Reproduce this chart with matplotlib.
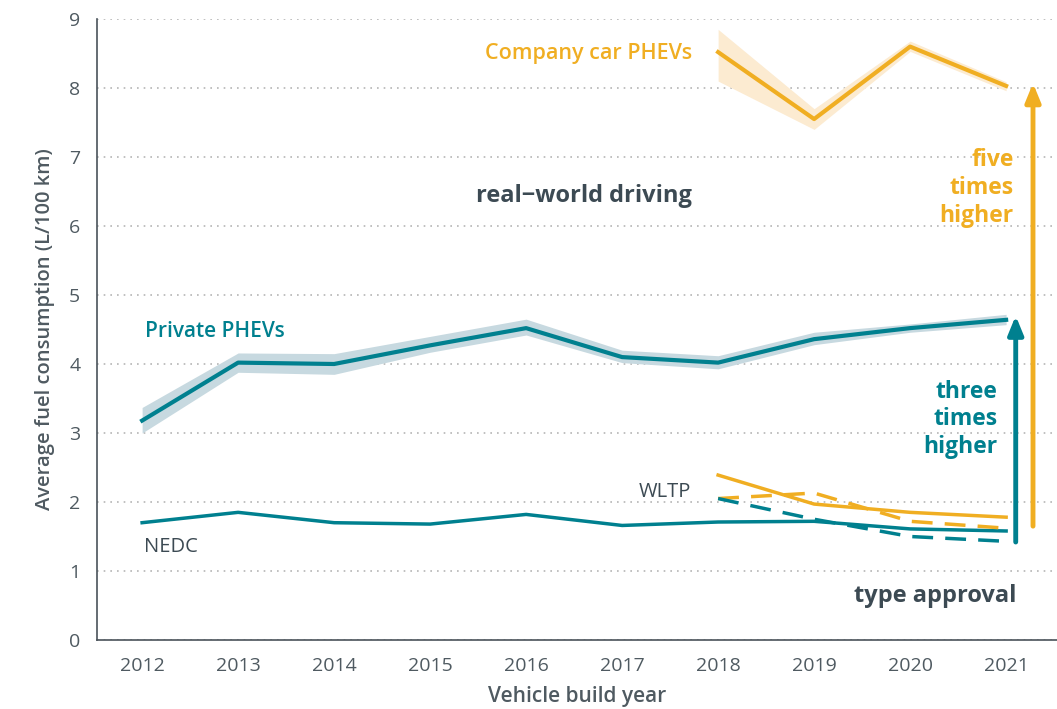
import matplotlib
matplotlib.use("Agg")
import matplotlib.pyplot as plt
import numpy as np

plt.rcParams['font.family'] = ['Open Sans', 'DejaVu Sans']

years = [2012, 2013, 2014, 2015, 2016, 2017, 2018, 2019, 2020, 2021]
private_real = [3.18, 4.02, 4.0, 4.27, 4.52, 4.1, 4.02, 4.36, 4.52, 4.64]
private_lo = [3.0, 3.88, 3.85, 4.17, 4.42, 4.02, 3.93, 4.28, 4.46, 4.57]
private_hi = [3.37, 4.16, 4.15, 4.40, 4.65, 4.20, 4.12, 4.46, 4.58, 4.72]

company_years = [2018, 2019, 2020, 2021]
company_real = [8.52, 7.55, 8.6, 8.03]
company_lo = [8.1, 7.4, 8.53, 7.96]
company_hi = [8.85, 7.7, 8.68, 8.09]

private_nedc = [1.7, 1.85, 1.7, 1.68, 1.82, 1.66, 1.71, 1.72, 1.61, 1.58]
company_nedc = [2.39, 1.97, 1.85, 1.78]
company_wltp = [2.05, 2.13, 1.72, 1.62]
private_wltp = [2.05, 1.75, 1.50, 1.43]

teal = '#00808F'
orange = '#F0AE22'
teal_band = '#C7D9E0'
orange_band = '#FCEBD1'
dark = '#3C4A53'
grey = '#4F5A61'

fig = plt.figure(figsize=(10.57, 7.09), dpi=100)
ax = fig.add_axes([97/1057, 69/709, 1 - 97/1057, (640-19)/709])
ax.set_xlim(2011.53, 2021.53)
ax.set_ylim(0, 9)

ax.fill_between(years, private_lo, private_hi, color=teal_band, lw=0, zorder=1)
ax.fill_between(company_years, company_lo, company_hi, color=orange_band, lw=0, zorder=1)
ax.plot(years, private_real, color=teal, lw=3, zorder=3)
ax.plot(company_years, company_real, color=orange, lw=3, zorder=3)

ax.plot(years, private_nedc, color=teal, lw=2.5, zorder=3)
ax.plot(company_years, company_nedc, color=orange, lw=2.5, zorder=3)
ax.plot(company_years, company_wltp, color=orange, lw=2.5, ls=(0, (6, 3.5)), zorder=3)
ax.plot(company_years, private_wltp, color=teal, lw=2.5, ls=(0, (6, 3.5)), zorder=3)

# arrows
ax.annotate('', xy=(2021.1, 4.7), xytext=(2021.1, 1.42),
            arrowprops=dict(arrowstyle='-|>,head_length=1.1,head_width=0.45', color=teal, lw=3.5,
                            shrinkA=0, shrinkB=0), zorder=4)
ax.annotate('', xy=(2021.28, 8.07), xytext=(2021.28, 1.65),
            arrowprops=dict(arrowstyle='-|>,head_length=1.1,head_width=0.45', color=orange, lw=3.5,
                            shrinkA=0, shrinkB=0), zorder=4)

ax.set_yticks(range(0, 10))
ax.set_xticks(years)
ax.set_xticklabels([str(y) for y in years])
ax.tick_params(axis='both', length=0, labelsize=14, labelcolor=grey)
ax.tick_params(axis='x', pad=12)
ax.tick_params(axis='y', pad=12)
ax.yaxis.grid(True, ls=(0, (1, 3)), color='#B5B5B5', lw=1.2)
ax.set_axisbelow(True)
for s in ['top', 'right']:
    ax.spines[s].set_visible(False)
for s in ['left', 'bottom']:
    ax.spines[s].set_color('#4A535A')
    ax.spines[s].set_linewidth(1.2)

ax.set_xlabel('Vehicle build year', fontsize=15, color=grey, fontweight='semibold', labelpad=8)
ax.set_ylabel('Average fuel consumption (L/100 km)', fontsize=14.5, color=grey,
              fontweight='semibold', labelpad=10)

ax.text(2016.65, 8.5, 'Company car PHEVs', color=orange, fontsize=15.5, fontweight='semibold',
        ha='center', va='center')
ax.text(2016.6, 6.43, 'real−world driving', color=dark, fontsize=17, fontweight='bold',
        ha='center', va='center')
ax.text(2012.76, 4.47, 'Private PHEVs', color=teal, fontsize=15, fontweight='semibold',
        ha='center', va='center')
ax.text(2012.3, 1.35, 'NEDC', color=dark, fontsize=14.5, ha='center', va='center')
ax.text(2017.45, 2.14, 'WLTP', color=dark, fontsize=14.5, ha='center', va='center')
ax.text(2020.26, 0.64, 'type approval', color=dark, fontsize=17, fontweight='bold',
        ha='center', va='center')
ax.text(2021.08, 6.55, 'five\ntimes\nhigher', color=orange, fontsize=16.5, fontweight='bold',
        ha='right', va='center', linespacing=1.2)
ax.text(2020.91, 3.2, 'three\ntimes\nhigher', color=teal, fontsize=16.5, fontweight='bold',
        ha='right', va='center', linespacing=1.2)

fig.savefig('out.png', dpi=100)
